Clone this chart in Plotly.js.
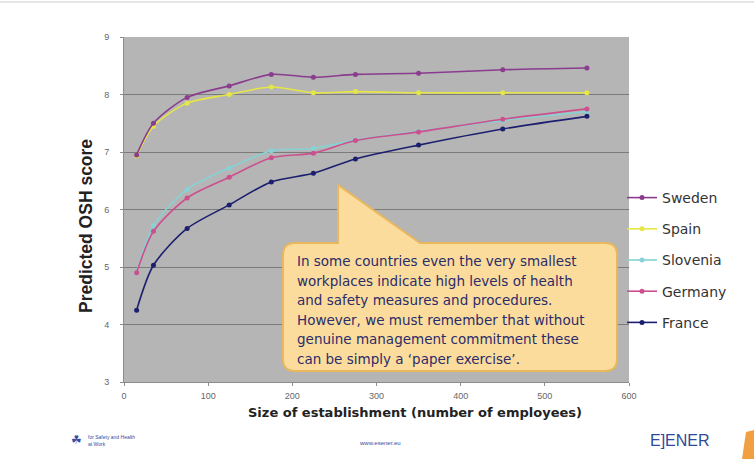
<!DOCTYPE html>
<html>
<head>
<meta charset="utf-8">
<script src="https://cdn.plot.ly/plotly-3.0.1.min.js"></script>
<style>
html,body{margin:0;padding:0;background:#fff;}
#chart{width:754px;height:459px;}
</style>
</head>
<body>
<div id="chart"></div>
<script>
// ---- data ----
const employees = [15, 35, 75, 125, 175, 225, 275, 350, 450, 550];
const countries = ["Sweden", "Spain", "Slovenia", "Germany", "France"];
const sweden   = [6.95, 7.50, 7.95, 8.15, 8.35, 8.30, 8.35, 8.37, 8.43, 8.46];
const spain    = [6.93, 7.45, 7.85, 8.00, 8.13, 8.03, 8.05, 8.03, 8.03, 8.03];
const slovenia = [4.90, 5.72, 6.35, 6.72, 7.02, 7.06, 7.21, 7.36, 7.55, 7.70];
const germany  = [4.90, 5.62, 6.20, 6.56, 6.90, 6.98, 7.20, 7.35, 7.57, 7.75];
const france   = [4.25, 5.03, 5.67, 6.08, 6.48, 6.63, 6.88, 7.12, 7.40, 7.62];
const xTicks = [0, 100, 200, 300, 400, 500, 600];
const yTicks = [3, 4, 5, 6, 7, 8, 9];
const xTitle = "Size of establishment (number of employees)";
const yTitle = "Predicted OSH score";
const calloutLines = [
  "In some countries even the very smallest",
  "workplaces indicate high levels of health",
  "and safety measures and procedures.",
  "However, we must remember that without",
  "genuine management commitment these",
  "can be simply a \u2018paper exercise\u2019."
];

const seriesValues = [sweden, spain, slovenia, germany, france];
const colors = ["#8a3c8e", "#e6e645", "#86d2d4", "#cc4f8e", "#1c1f6e"];

// plot area in pixels
const W = 754, H = 459, L = 124, R = 629, T = 37, B = 382;
const px = x => (x - L) / (R - L);
const py = y => (B - y) / (B - T);

const traces = countries.map((name, i) => ({
  x: employees, y: seriesValues[i], name: name, type: "scatter", mode: "lines+markers",
  legendgroup: name, legendrank: i + 1,
  line: {color: colors[i], width: 1.6, shape: "spline", smoothing: 0.8},
  marker: {color: colors[i], size: 5, symbol: "circle"}
}));
// draw Sweden on top of Spain and Germany on top of Slovenia
const order = [2, 3, 4, 1, 0];
const data = order.map(i => traces[i]);

// callout path (rounded box with pointer), paper coords
const bx0 = 283, bx1 = 617, by0 = 243, by1 = 371, r = 12;
const tipX = 338, tipY = 185, baseR = 420;
function P(x, y) { return px(x).toFixed(4) + "," + py(y).toFixed(4); }
const path = "M" + P(bx0 + r, by0) + " L" + P(tipX, by0) + " L" + P(tipX, tipY) + " L" + P(baseR, by0) +
  " L" + P(bx1 - r, by0) + " Q" + P(bx1, by0) + " " + P(bx1, by0 + r) +
  " L" + P(bx1, by1 - r) + " Q" + P(bx1, by1) + " " + P(bx1 - r, by1) +
  " L" + P(bx0 + r, by1) + " Q" + P(bx0, by1) + " " + P(bx0, by1 - r) +
  " L" + P(bx0, by0 + r) + " Q" + P(bx0, by0) + " " + P(bx0 + r, by0) + " Z";

const annotations = calloutLines.map((t, k) => ({
  xref: "paper", yref: "paper", x: px(295), y: py(261 + k * 19.5),
  xanchor: "left", yanchor: "middle", showarrow: false, text: t,
  font: {family: "DejaVu Sans, sans-serif", size: 13.5, color: "#2b2c6a"}
}));
annotations.push(
  {xref: "paper", yref: "paper", x: px(415), y: py(412), xanchor: "center", yanchor: "middle",
   showarrow: false, text: "<b>" + xTitle + "</b>",
   font: {family: "DejaVu Sans, sans-serif", size: 13, color: "#222"}},
  {xref: "paper", yref: "paper", x: px(86), y: py(226), xanchor: "center", yanchor: "middle",
   showarrow: false, textangle: -90, text: "<b>" + yTitle + "</b>",
   font: {family: "Liberation Sans, Arial, sans-serif", size: 17.5, color: "#222"}},
  {xref: "paper", yref: "paper", x: px(380), y: py(443), xanchor: "center", yanchor: "middle",
   showarrow: false, text: "www.esener.eu", font: {family: "Liberation Sans, Arial", size: 6, color: "#3a4aa0"}},
  {xref: "paper", yref: "paper", x: px(680), y: py(440), xanchor: "center", yanchor: "middle",
   showarrow: false, text: "E]ENER", font: {family: "Liberation Sans, Arial", size: 16, color: "#2e4a9a"}},
  {xref: "paper", yref: "paper", x: px(86), y: py(440), xanchor: "left", yanchor: "middle", align: "left",
   showarrow: false, text: "for Safety and Health<br>at Work", font: {family: "Liberation Sans, Arial", size: 5, color: "#3a4aa0"}},
  {xref: "paper", yref: "paper", x: px(76), y: py(440), xanchor: "center", yanchor: "middle",
   showarrow: false, text: "\u2618", font: {family: "DejaVu Sans", size: 12, color: "#3a4aa0"}}
);

const shapes = [
  {type: "path", xref: "paper", yref: "paper", path: path,
   fillcolor: "#fbdc9c", line: {color: "#e9b75c", width: 2}, layer: "above"},
  {type: "path", xref: "paper", yref: "paper",
   path: "M" + P(742, 459) + " L" + P(746, 432) + " L" + P(754, 430) + " L" + P(754, 459) + " Z",
   fillcolor: "#f0a040", line: {width: 0}, layer: "above"},
  {type: "line", xref: "paper", yref: "paper", x0: px(0), x1: px(754), y0: py(2), y1: py(2),
   line: {color: "#e6e6e6", width: 2}}
];

const layout = {
  width: W, height: H,
  margin: {l: L, r: W - R, t: T, b: H - B},
  paper_bgcolor: "#ffffff", plot_bgcolor: "#b5b5b5",
  font: {family: "Liberation Sans, Arial, sans-serif"},
  xaxis: {
    range: [0, 600], tickvals: xTicks, ticktext: xTicks.map(String),
    showgrid: false, zeroline: false, showline: true, linecolor: "#8c8c8c", linewidth: 1,
    ticks: "outside", ticklen: 3, tickcolor: "#8c8c8c", ticklabelstandoff: 2,
    tickfont: {size: 9, color: "#666"}
  },
  yaxis: {
    range: [3, 9], tickvals: yTicks, ticktext: yTicks.map(String),
    showgrid: true, gridcolor: "#7b7b7b", gridwidth: 1, zeroline: false,
    showline: true, linecolor: "#8c8c8c", linewidth: 1,
    ticks: "outside", ticklen: 3, tickcolor: "#8c8c8c", ticklabelstandoff: 9,
    tickfont: {size: 9, color: "#666"}
  },
  showlegend: true,
  legend: {
    x: px(622), y: py(182), xanchor: "left", yanchor: "top",
    traceorder: "grouped", bgcolor: "rgba(0,0,0,0)",
    font: {family: "DejaVu Sans, sans-serif", size: 14, color: "#333"},
    itemwidth: 30, tracegroupgap: 10, valign: "middle"
  },
  shapes: shapes,
  annotations: annotations
};

Plotly.newPlot("chart", data, layout, {displayModeBar: false, staticPlot: true});
</script>
</body>
</html>
